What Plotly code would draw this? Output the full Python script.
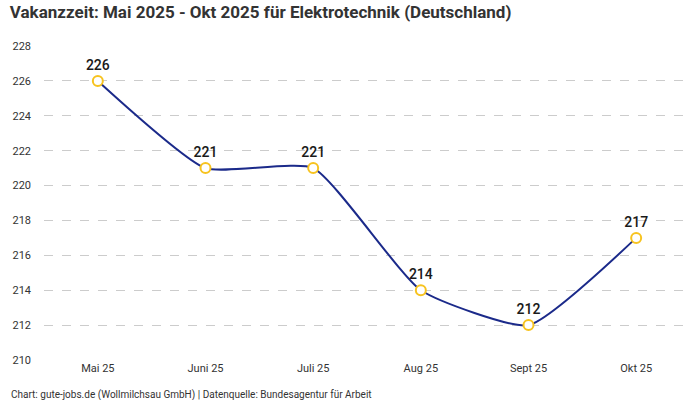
import plotly.graph_objects as go

monate = ["Mai 25", "Juni 25", "Juli 25", "Aug 25", "Sept 25", "Okt 25"]
vakanzzeit = [226, 221, 221, 214, 212, 217]
y_ticks = [210, 212, 214, 216, 218, 220, 222, 224, 226, 228]

TITEL = "Vakanzzeit: Mai 2025 - Okt 2025 für Elektrotechnik (Deutschland)"
QUELLE = "Chart: gute-jobs.de (Wollmilchsau GmbH) | Datenquelle: Bundesagentur für Arbeit"

fig = go.Figure(go.Scatter(
    x=monate, y=vakanzzeit,
    mode="lines+markers+text",
    line=dict(color="#1b2a8a", width=2, shape="spline", smoothing=0.5),
    marker=dict(size=10, color="white", line=dict(color="#f7c31f", width=2)),
    text=[str(v) for v in vakanzzeit],
    textposition="top center",
    textfont=dict(size=14, color="#1a1a1a", family="Roboto Medium, Roboto"),
    cliponaxis=False,
    hoverinfo="x+y",
))

fig.update_layout(
    width=700, height=400,
    margin=dict(l=44, r=10, t=46, b=40),
    paper_bgcolor="white", plot_bgcolor="white",
    font=dict(family="Roboto", size=11, color="#333333"),
    showlegend=False,
    title=dict(text="<b>" + TITEL + "</b>", x=0.014, xanchor="left", y=0.985, yanchor="top",
               font=dict(size=17, color="#333333")),
    xaxis=dict(range=[-0.5, 5.5], showgrid=False, zeroline=False, showline=False,
               ticks="", tickfont=dict(size=11, color="#333333")),
    yaxis=dict(range=[210, 228], tickvals=y_ticks, showgrid=True, gridcolor="#cccccc",
               griddash="dash", gridwidth=1, zeroline=False, showline=False,
               ticks="", ticklabelstandoff=12, tickfont=dict(size=11, color="#333333")),
    annotations=[dict(text=QUELLE, xref="paper", yref="paper", x=-0.054, y=-0.085,
                      xanchor="left", yanchor="top", showarrow=False,
                      font=dict(size=10, color="#333333"))],
)

fig.write_html("out.html", config={"displayModeBar": False},
               post_script="document.body.style.margin='0';")
